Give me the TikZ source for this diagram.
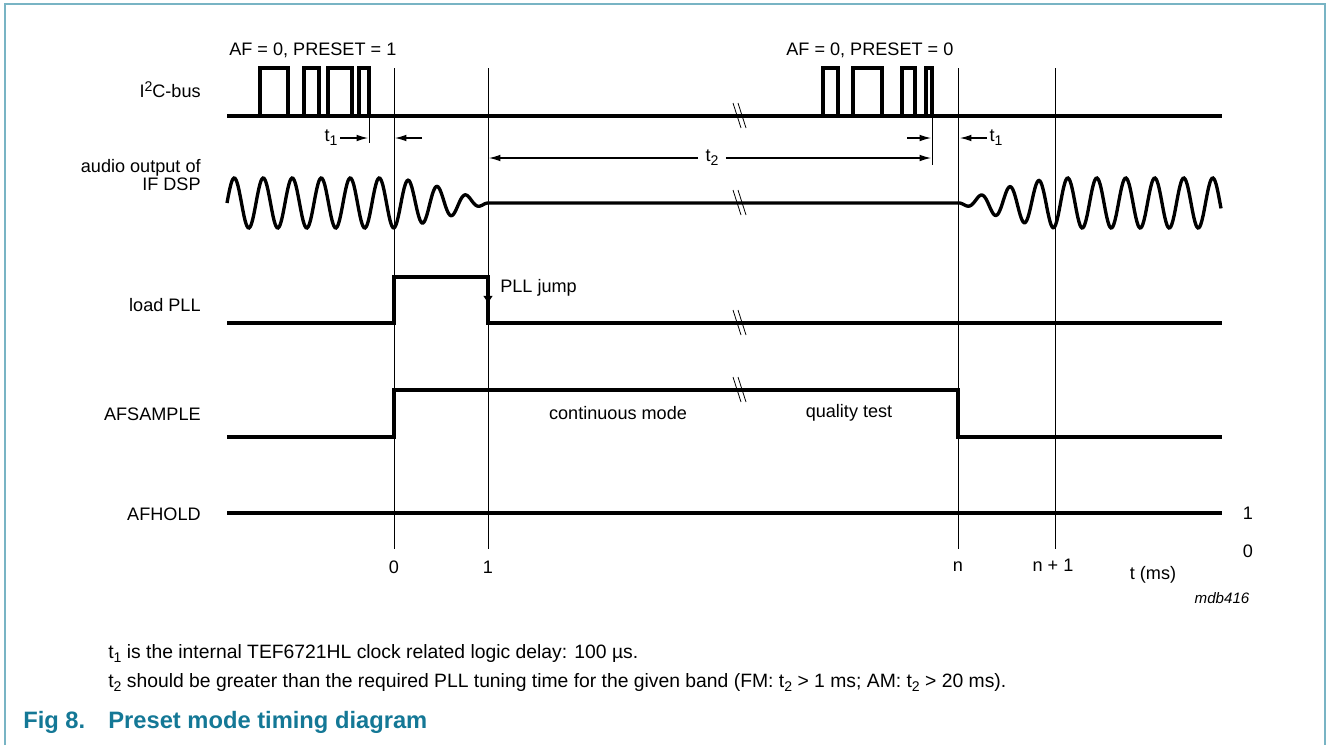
\documentclass[tikz,border=0pt]{standalone}
\usepackage{fontspec}
\setmainfont{Liberation Sans}
\usetikzlibrary{arrows.meta}

\definecolor{figblue}{RGB}{20,120,150}
\definecolor{framecol}{RGB}{120,180,196}

\newcommand{\lowidx}[1]{\raisebox{-0.4ex}{\footnotesize #1}}
\newcommand{\highidx}[1]{\raisebox{0.55ex}{\footnotesize #1}}

\begin{document}
\begin{tikzpicture}[x=0.02cm, y=-0.02cm,
    sig/.style={line width=1.9pt, line join=miter},
    grid/.style={line width=0.55pt},
    brk/.style={line width=0.45pt},
    dim/.style={line width=0.6pt, -{Latex[length=6.5pt,width=3.8pt]}},
    lbl/.style={font=\fontsize{10.3}{12}\selectfont, inner sep=0pt},
    note/.style={font=\fontsize{11}{13}\selectfont, inner sep=0pt},
    captxt/.style={font=\fontsize{13.5}{16}\selectfont\bfseries, text=figblue, inner sep=0pt}]

    \useasboundingbox (0,0) rectangle (1327,745);
    \draw[framecol, line width=1.1pt] (5,745) -- (5,4) -- (1325,4) -- (1325,745);

    % signal names
    \node[lbl, anchor=base east] (i2c) at (201,97) {I\highidx{2}C-bus};
    \node[lbl, anchor=base east, align=right, font=\fontsize{10.3}{10.2}\selectfont] (audio) at (201,190) {audio output of\\IF DSP};
    \node[lbl, anchor=base east] (pll) at (201,311) {load PLL};
    \node[lbl, anchor=base east] (afs) at (201,420) {AFSAMPLE};
    \node[lbl, anchor=base east] (afh) at (201,520) {AFHOLD};

    % time lines
    \foreach \x in {394,488,958,1055}
        \draw[grid] (\x,68) -- (\x,549);

    % I2C-bus
    \draw[sig] (227,116) -- (1222,116);
    \foreach \a/\b in {260/288,304/319,328/352,359/369,823/838,853/882,902/915,926/932}
        \draw[sig] (\a,116) -- (\a,68) -- (\b,68) -- (\b,116);
    \node[lbl, anchor=base west] (preset1) at (229,55) {AF = 0, PRESET = 1};
    \node[lbl, anchor=base west] (preset0) at (786,55) {AF = 0, PRESET = 0};

    % audio output
    \draw[sig] plot[domain=227:394, samples=168] (\x,{203-25*sin(12.4138*(\x-227))})
        -- plot[domain=394:488, samples=95] (\x,{203-25*(1-0.5*((\x-394)/94)-0.5*((\x-394)/94)^2)*sin(12.4138*(\x-227))})
        -- (959,203)
        -- plot[domain=959:1055, samples=97] (\x,{203+25*(1-0.5*((1055-\x)/96)-0.5*((1055-\x)/96)^2)*sin(12.4138*(\x-959))})
        -- plot[domain=1055:1221, samples=167] (\x,{203+25*sin(12.4138*(\x-959))});

    % load PLL
    \draw[sig] (227,323) -- (394,323) -- (394,277) -- (488,277) -- (488,323) -- (1222,323);
    \draw[line width=0.6pt, -{Latex[length=4.6pt,width=5.5pt]}] (488,288) -- (488,304);
    \node[lbl, anchor=base west] (jump) at (500,292) {PLL jump};

    % AFSAMPLE
    \draw[sig] (227,437) -- (394,437) -- (394,390) -- (958,390) -- (958,437) -- (1222,437);
    \node[lbl] (cont) at (618,413) {continuous mode};
    \node[lbl] (qual) at (849,413) {quality test};

    % AFHOLD
    \draw[sig] (227,513) -- (1222,513);

    % breaks
    \foreach \y in {116,203,323,390} {
        \draw[brk] (733,\y-13) -- (741,\y+12);
        \draw[brk] (738,\y-13) -- (746,\y+12);
    }

    % delays
    \draw[grid] (369,116) -- (369,143);
    \draw[grid] (932,116) -- (932,165);
    \node[lbl, inner sep=1.5pt] (t1a) at (331,138) {t\lowidx{1}};
    \coordinate (t1aend) at (368,138);
    \draw[dim] (t1a) -- (t1aend);
    \coordinate (z0from) at (422,138);
    \coordinate (z0to) at (395,138);
    \draw[dim] (z0from) -- (z0to);
    \coordinate (t1bfrom) at (907,138);
    \coordinate (t1bto) at (931,138);
    \draw[dim] (t1bfrom) -- (t1bto);
    \node[lbl, inner sep=1.5pt] (t1b) at (996,138) {t\lowidx{1}};
    \coordinate (nto) at (960,138);
    \draw[dim] (t1b) -- (nto);
    \node[lbl, inner xsep=4pt] (t2) at (712,158) {t\lowidx{2}};
    \coordinate (t2l) at (489,158);
    \coordinate (t2r) at (931,158);
    \draw[dim] (t2.west) -- (t2l);
    \draw[dim] (t2.east) -- (t2r);

    % axis
    \node[lbl] (x0) at (394,567) {0};
    \node[lbl] (x1) at (488,567) {1};
    \node[lbl] (xn) at (958,567) {n};
    \node[lbl] (xn1) at (1053,565) {n + 1};
    \node[lbl] (tms) at (1153,575) {t (ms)};
    \node[lbl, font=\fontsize{8.6}{10}\selectfont\itshape] (code) at (1222,598) {mdb416};
    \node[lbl] (hi) at (1248,513) {1};
    \node[lbl] (lo) at (1248,551) {0};

    % notes and caption
    \node[note, anchor=base west] (n1) at (108,658) {t\lowidx{1} is the internal TEF6721HL clock related logic delay: 100 µs.};
    \node[note, anchor=base west] (n2) at (108,687) {t\lowidx{2} should be greater than the required PLL tuning time for the given band (FM: t\lowidx{2} > 1 ms; AM: t\lowidx{2} > 20 ms).};
    \node[captxt, anchor=base west] (fig) at (23,728) {Fig 8.};
    \node[captxt, anchor=base west] (title) at (108,728) {Preset mode timing diagram};
\end{tikzpicture}
\end{document}
